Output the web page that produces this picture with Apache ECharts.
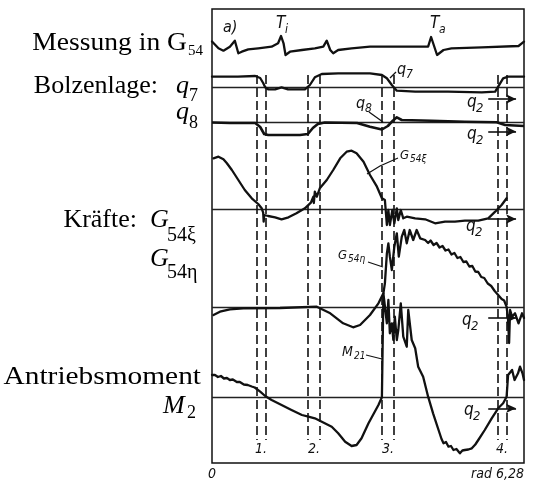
<!DOCTYPE html>
<html>
<head>
<meta charset="utf-8">
<script src="https://cdn.jsdelivr.net/npm/echarts@6/dist/echarts.min.js"></script>
<style>
  html, body { margin: 0; padding: 0; background: #fff; }
  #chart { width: 533px; height: 481px; }
</style>
</head>
<body>
<div id="chart"></div>
<script>
// Oscillogram over one revolution of the drive (0 … 2π rad)
const angleMax = 6.28;
const axisEndLabels = ['0', 'rad 6,28'];

// zero line of every channel, in trace units above the lower frame edge
const channelZero = { messung: 416, q7: 376, q8: 341, g54xi: 254, g54eta: 156, m2: 66 };

// samples: [angle / rad, deflection above the channel's zero line]
const messung = [
  [0.00, 5.5], [0.03, 4.3], [0.13, -1.3], [0.23, -3.7], [0.36, 0.3], [0.46, 6.3], [0.53, -6.3],
  [0.60, -4.7], [0.73, -2.3], [0.93, -1.3], [1.20, 0.3], [1.33, 3.7], [1.39, 11], [1.44, 3.7],
  [1.48, -8], [1.57, -4.7], [1.81, -3], [2.07, -1.3], [2.24, 0.3], [2.31, 6.3], [2.38, -3],
  [2.44, -6.3], [2.54, -3], [2.81, -1.3], [3.18, 0.3], [4.35, 0.3], [4.41, 10], [4.53, -8],
  [4.66, -3], [4.82, -1.3], [5.43, -0.3], [6.17, 1], [6.28, 5.3]
];

const q7 = [
  [0.00, 10.3], [0.52, 10.3], [0.87, 11], [0.97, 9], [1.03, 4], [1.07, -0.3], [1.13, -2.3],
  [1.27, -2.3], [1.40, -0.3], [1.53, -2.3], [1.87, -2.3], [1.97, 2], [2.07, 9.7], [2.21, 13],
  [2.54, 13.7], [3.18, 13.7], [3.42, 12], [3.52, 8.7], [3.62, 2], [3.72, -3.7], [4.09, -4.7],
  [4.75, -4.7], [5.43, -5.3], [5.70, -4.7], [5.76, 0.3], [5.86, 8.7], [5.96, 10.3], [6.28, 10.3]
];

const q8 = [
  [0.00, -0.5], [0.36, -1], [0.87, -1], [0.97, -5], [1.05, -12], [1.13, -13], [1.77, -13],
  [1.93, -12], [2.03, -6], [2.13, -2], [2.27, -0.5], [2.92, -1], [3.18, -4.7], [3.42, -7.5],
  [3.54, -4], [3.64, 1.3], [3.72, 4.7], [3.82, 2], [4.42, 1.3], [5.09, 0.3], [5.73, -0.3],
  [5.90, -3], [6.28, -4]
];

const g54xi = [
  [0.03, 50.7], [0.13, 52.3], [0.23, 49.7], [0.30, 45.7], [0.40, 39], [0.53, 29], [0.66, 19],
  [0.80, 10.7], [0.93, 5], [1.00, 0.7], [1.03, -3.7], [1.04, -12.7], [1.05, -6], [1.13, -7],
  [1.27, -8.3], [1.40, -10.3], [1.54, -8.3], [1.70, -4.3], [1.87, 0.7], [1.99, 6.3], [2.04, 12.3],
  [2.05, 6], [2.07, 17.3], [2.11, 12.3], [2.17, 20.7], [2.31, 29], [2.44, 39], [2.58, 50.7],
  [2.71, 57.3], [2.81, 58.3], [2.91, 55.7], [3.05, 47.3], [3.18, 34], [3.32, 22.3], [3.42, 10.7],
  [3.48, 9], [3.52, -16], [3.55, -1], [3.58, -16], [3.63, -1], [3.67, -14.3], [3.72, 0.7],
  [3.75, -11], [3.80, -1], [3.85, -9.3], [3.92, -7.7], [4.09, -9.3], [4.29, -10.3], [4.49, -14.3],
  [4.69, -12.7], [4.89, -12.7], [5.09, -11.7], [5.36, -11.7], [5.56, -9.3], [5.70, -2.7],
  [5.83, 4], [5.93, 10.7]
];

const g54eta = [
  [0.03, -8], [0.16, -4.7], [0.36, -2.3], [0.63, -1.3], [1.37, -1], [2.11, 0.3], [2.38, -6.3],
  [2.64, -16.3], [2.84, -20.3], [2.98, -18], [3.18, -8], [3.35, 3.7], [3.45, 13.7], [3.48, 23.7],
  [3.52, 53.7], [3.55, 63.7], [3.58, 50.3], [3.62, 37], [3.67, 60.3], [3.72, 73.7], [3.76, 50.3],
  [3.82, 70.3], [3.87, 77], [3.92, 63.7], [3.98, 77], [4.05, 67], [4.12, 77], [4.19, 68.7],
  [4.29, 67], [4.35, 64], [4.40, 66.5], [4.46, 62], [4.52, 64], [4.58, 59.5], [4.64, 61],
  [4.70, 56.5], [4.76, 57.5], [4.82, 52.5], [4.88, 54], [4.94, 49], [5.00, 50], [5.06, 45],
  [5.12, 45.5], [5.18, 40.5], [5.24, 41], [5.30, 35.5], [5.36, 35], [5.42, 30], [5.48, 29],
  [5.55, 23.5], [5.62, 21], [5.69, 16], [5.76, 12], [5.83, 8], [5.88, 6.5], [5.93, 0.3],
  [5.96, -13], [5.98, -36], [6.00, -3], [6.04, -9.7], [6.10, -6.3], [6.17, -16.3], [6.24, -6.3],
  [6.28, -11]
];

const m2 = [
  [0.00, 22], [0.06, 22], [0.12, 20], [0.18, 21], [0.24, 18.5], [0.30, 19], [0.36, 17],
  [0.42, 17.5], [0.50, 15], [0.56, 15], [0.64, 12.5], [0.72, 12], [0.80, 10.5], [0.86, 9.5],
  [0.97, 5.3], [1.07, 1], [1.20, -3], [1.40, -8], [1.60, -13], [1.81, -18], [1.94, -19.7],
  [2.07, -21.3], [2.21, -24.7], [2.41, -29.7], [2.54, -36.3], [2.68, -44.7], [2.81, -49],
  [2.91, -48], [3.01, -41.3], [3.15, -26.3], [3.35, -8], [3.42, -0.3], [3.44, 1], [3.45, 103.7],
  [3.52, 73.7], [3.55, 97], [3.58, 63.7], [3.62, 73.7], [3.65, 57], [3.68, 80.3], [3.72, 57],
  [3.75, 67], [3.80, 93.7], [3.85, 60.3], [3.92, 50.3], [3.95, 87], [3.99, 88.7], [4.02, 57],
  [4.09, 48.7], [4.15, 30.3], [4.25, 20.3], [4.35, 0.3], [4.45, -16.3], [4.56, -33],
  [4.62, -42], [4.66, -46.3], [4.71, -45], [4.76, -49.7], [4.81, -49], [4.86, -53], [4.92, -52],
  [4.99, -56.3], [5.04, -53.5], [5.09, -53], [5.16, -52.5], [5.23, -51.3], [5.30, -47.5],
  [5.36, -43], [5.49, -33], [5.63, -21.3], [5.76, -11.3], [5.86, -6.3], [5.93, 0.3], [5.96, 22],
  [6.04, 27], [6.09, 17], [6.16, 23.7], [6.20, 30.3], [6.25, 23.7], [6.28, 17]
];

// dashed marker pairs 1. – 4.
const markerPairs = [[0.90, 1.08], [1.93, 2.16], [3.42, 3.65], [5.75, 5.93]];
const markerNames = ['1.', '2.', '3.', '4.'];
const markerSpan = [23, 388];

// q2 arrows: [channel, offset of the arrow below the zero line]
const q2Arrows = [['q7', -12], ['q8', -9.5], ['g54xi', -10], ['g54eta', -11], ['m2', -11.3]];
const q2ArrowSpan = [5.56, 6.12];

const INK = '#111';

function shift(samples, zero) {
  return samples.map(p => [p[0], p[1] + zero]);
}

function trace(name, samples, zero, extra) {
  return Object.assign({
    name: name,
    type: 'line',
    data: shift(samples, zero),
    showSymbol: false,
    symbol: 'none',
    silent: true,
    lineStyle: { color: INK, width: 2.3, join: 'round', cap: 'round' },
    z: 5
  }, extra || {});
}

// zero lines, dashed markers and q2 arrows
const guideLines = [];
Object.keys(channelZero).forEach(k => {
  if (k !== 'messung') {
    guideLines.push({ yAxis: channelZero[k], lineStyle: { color: '#222', width: 1.3, type: 'solid' } });
  }
});
markerPairs.forEach(pair => pair.forEach(a => {
  guideLines.push([
    { coord: [a, markerSpan[1]], lineStyle: { color: INK, width: 1.6, type: [9, 4] } },
    { coord: [a, markerSpan[0]] }
  ]);
}));
q2Arrows.forEach(([ch, off]) => {
  const y = channelZero[ch] + off;
  guideLines.push([
    { coord: [q2ArrowSpan[0], y], symbol: 'none', lineStyle: { color: INK, width: 1.6, type: 'solid' } },
    { coord: [q2ArrowSpan[1], y], symbol: 'arrow', symbolSize: [7, 10] }
  ]);
});

const serif = "'Liberation Serif', 'Times New Roman', serif";
const tech = "'Liberation Sans Narrow', 'DejaVu Sans Condensed', 'Liberation Sans', sans-serif";

function txt(t, x, y, o, sx) {
  return {
    type: 'text', x: x, y: y, silent: true, z: 20, scaleX: sx || 1,
    style: Object.assign({
      text: t, fill: '#000', fontFamily: serif, fontSize: 26,
      align: 'left', verticalAlign: 'middle'
    }, o || {})
  };
}
function note(t, x, y, o) {
  return txt(t, x, y, Object.assign({ fontFamily: tech, fontStyle: 'italic', fontSize: 15, fill: INK }, o || {}));
}
function leader(points) {
  return { type: 'polyline', silent: true, z: 20, shape: { points: points },
           style: { stroke: INK, lineWidth: 1.2, fill: null } };
}

const graphics = [
  // channel names at the left
  txt('Messung in G', 187, 43, { align: 'right' }, 1.06),
  txt('54', 188, 51, { fontSize: 15 }),
  txt('Bolzenlage:', 158, 86, { align: 'right' }),
  txt('q', 176, 86, { fontStyle: 'italic' }),
  txt('7', 189, 96, { fontSize: 18 }),
  txt('q', 176, 112, { fontStyle: 'italic' }),
  txt('8', 189, 123, { fontSize: 18 }),
  txt('Kräfte:', 137, 220, { align: 'right' }),
  txt('G', 150, 220, { fontStyle: 'italic' }),
  txt('54ξ', 167, 236, { fontSize: 20 }),
  txt('G', 150, 259, { fontStyle: 'italic' }),
  txt('54η', 167, 273, { fontSize: 20 }),
  txt('Antriebsmoment', 201, 377, { align: 'right' }, 1.13),
  txt('M', 163, 406, { fontStyle: 'italic' }),
  txt('2', 187, 413, { fontSize: 18 }),

  // annotations inside the frame
  note('a)', 223, 28, { fontSize: 16 }),
  note('T', 276, 24, { fontSize: 17 }),
  note('i', 285, 30, { fontSize: 12 }),
  note('T', 430, 24, { fontSize: 17 }),
  note('a', 439, 30, { fontSize: 12 }),
  note('q', 397, 70, { fontSize: 16 }),
  note('7', 406, 75, { fontSize: 12 }),
  leader([[396, 72], [390, 78]]),
  note('q', 356, 104, { fontSize: 16 }),
  note('8', 365, 109, { fontSize: 12 }),
  leader([[369, 112], [376, 117], [383, 122]]),
  note('G', 400, 156, { fontSize: 13 }),
  note('54ξ', 410, 159, { fontSize: 10 }),
  leader([[398, 158], [380, 166], [367, 174]]),
  note('G', 338, 256, { fontSize: 13 }),
  note('54η', 348, 259, { fontSize: 10 }),
  leader([[368, 262], [383, 267]]),
  note('M', 342, 352, { fontSize: 14 }),
  note('21', 354, 356, { fontSize: 10 }),
  leader([[366, 355], [382, 359]])
];
[[467, 103], [467, 135], [466, 227], [462, 321], [464, 411]].forEach(([x, y]) => {
  graphics.push(note('q', x, y, { fontSize: 17 }));
  graphics.push(note('2', x + 9, y + 6, { fontSize: 13 }));
});
markerPairs.forEach((pair, i) => {
  const cx = [261, 314, 388, 502][i];
  graphics.push(note(markerNames[i], cx, 449, { align: 'center', fontSize: 14 }));
});

const chart = echarts.init(document.getElementById('chart'), null, { renderer: 'canvas' });
chart.setOption({
  animation: false,
  backgroundColor: '#fff',
  grid: {
    left: 212, top: 9, width: 312, height: 454,
    show: true, borderColor: INK, borderWidth: 1.5, backgroundColor: 'transparent'
  },
  xAxis: {
    type: 'value', min: 0, max: angleMax, interval: angleMax,
    axisLine: { show: false }, axisTick: { show: false }, splitLine: { show: false },
    axisLabel: {
      show: true, margin: 4, color: INK, fontFamily: tech, fontStyle: 'italic', fontSize: 14,
      showMinLabel: true, showMaxLabel: true, alignMinLabel: 'center', alignMaxLabel: 'right',
      formatter: v => (v === 0 ? axisEndLabels[0] : axisEndLabels[1])
    }
  },
  yAxis: { type: 'value', min: 0, max: 454, show: false },
  series: [
    trace('Messung in G54', messung, channelZero.messung, {
      markLine: {
        silent: true, symbol: ['none', 'none'], label: { show: false },
        emphasis: { disabled: true }, data: guideLines, z: 3
      }
    }),
    trace('q7', q7, channelZero.q7),
    trace('q8', q8, channelZero.q8, { lineStyle: { color: INK, width: 2.6, join: 'round' } }),
    trace('G54ξ', g54xi, channelZero.g54xi),
    trace('G54η', g54eta, channelZero.g54eta),
    trace('M2', m2, channelZero.m2)
  ],
  graphic: graphics
});
</script>
</body>
</html>
